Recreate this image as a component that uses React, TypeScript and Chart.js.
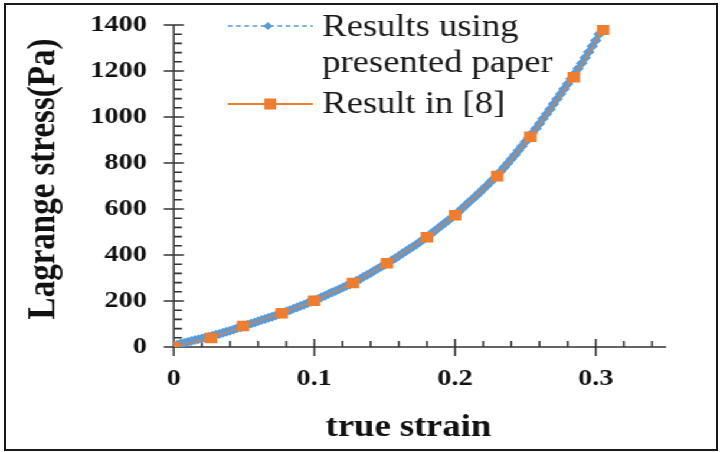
import React, { useEffect, useRef } from "react";
import { Chart, registerables } from "chart.js";

Chart.register(...registerables);

// ---- data ----
const xTickValues = [0, 0.1, 0.2, 0.3];
const yTickValues = [0, 200, 400, 600, 800, 1000, 1200, 1400];
const xTitle = "true strain";
const yTitle = "Lagrange stress(Pa)";
const legendBlue = ["Results using", "presented paper"];
const legendOrange = ["Result in [8]"];

const strainBlue = [
  0, 0.0025, 0.005, 0.0075, 0.01, 0.0125, 0.015, 0.0175, 0.02, 0.0225,
  0.025, 0.0275, 0.03, 0.0325, 0.035, 0.0375, 0.04, 0.0425, 0.045, 0.0475,
  0.05, 0.0525, 0.055, 0.0575, 0.06, 0.0625, 0.065, 0.0675, 0.07, 0.0725,
  0.075, 0.0775, 0.08, 0.0825, 0.085, 0.0875, 0.09, 0.0925, 0.095, 0.0975,
  0.1, 0.1025, 0.105, 0.1075, 0.11, 0.1125, 0.115, 0.1175, 0.12, 0.1225,
  0.125, 0.1275, 0.13, 0.1325, 0.135, 0.1375, 0.14, 0.1425, 0.145, 0.1475,
  0.15, 0.1525, 0.155, 0.1575, 0.16, 0.1625, 0.165, 0.1675, 0.17, 0.1725,
  0.175, 0.1775, 0.18, 0.1825, 0.185, 0.1875, 0.19, 0.1925, 0.195, 0.1975,
  0.2, 0.2025, 0.205, 0.2075, 0.21, 0.2125, 0.215, 0.2175, 0.22, 0.2225,
  0.225, 0.2275, 0.23, 0.2325, 0.235, 0.2375, 0.24, 0.2425, 0.245, 0.2475,
  0.25, 0.2525, 0.255, 0.2575, 0.26, 0.2625, 0.265, 0.2675, 0.27, 0.2725,
  0.275, 0.2775, 0.28, 0.2825, 0.285, 0.2875, 0.29, 0.2925, 0.295, 0.2975,
  0.3, 0.3025, 0.305,
];
const stressBlue = [
  5, 10, 15, 19, 22, 26, 30, 34, 37, 41,
  45, 49, 53, 57, 62, 66, 71, 76, 81, 86,
  92, 97, 102, 107, 112, 117, 122, 127, 132, 137,
  143, 148, 154, 160, 166, 172, 178, 184, 190, 197,
  203, 209, 216, 223, 230, 237, 244, 251, 258, 265,
  272, 280, 288, 296, 305, 313, 322, 331, 340, 349,
  358, 367, 377, 386, 396, 406, 416, 426, 436, 446,
  457, 468, 479, 490, 502, 514, 526, 538, 550, 562,
  575, 588, 602, 616, 630, 644, 658, 672, 687, 701,
  716, 731, 747, 764, 781, 799, 817, 835, 854, 873,
  892, 911, 930, 950, 971, 992, 1013, 1034, 1056, 1078,
  1100, 1122, 1144, 1166, 1188, 1211, 1234, 1258, 1283, 1308,
  1333, 1360, 1393,
];

const strainOrange = [0, 0.0265, 0.0493, 0.0768, 0.0998, 0.1274, 0.1516, 0.18, 0.2, 0.23, 0.2536, 0.2844, 0.3053];
const stressOrange = [0, 39, 91, 147, 201, 278, 364, 477, 573, 743, 914, 1173, 1380];

// ---- styling ----
const BLUE = "#5B9BD5";
const ORANGE = "#ED7D31";
const AXIS = "#333333";
const SERIF = '"Liberation Serif", "Times New Roman", serif';
const DESIGN_W = 610;
const DESIGN_H = 452;
const STRETCH = 720 / DESIGN_W;

const decorPlugin = {
  id: "decor",
  beforeDatasetsDraw(chart: any) {
    const ctx = chart.ctx;
    const xs = chart.scales.x;
    const ys = chart.scales.y;
    const ax = xs.getPixelForValue(0);
    const ay = ys.getPixelForValue(0);
    ctx.save();
    ctx.strokeStyle = AXIS;
    ctx.lineWidth = 1.6;
    ctx.beginPath();
    ctx.moveTo(ax, ys.getPixelForValue(1400));
    ctx.lineTo(ax, ay);
    ctx.lineTo(xs.getPixelForValue(0.35), ay);
    for (let v = 0; v <= 1400; v += 40) {
      const py = ys.getPixelForValue(v);
      if (v % 200 === 0) {
        ctx.moveTo(ax - 8.5, py);
        ctx.lineTo(ax + 8.5, py);
      } else {
        ctx.moveTo(ax, py);
        ctx.lineTo(ax + 7, py);
      }
    }
    for (let i = 0; i <= 17; i++) {
      const px = xs.getPixelForValue(i * 0.02);
      if (i % 5 === 0) {
        ctx.moveTo(px, ay - 8);
        ctx.lineTo(px, ay + 9);
      } else {
        ctx.moveTo(px, ay - 6);
        ctx.lineTo(px, ay);
      }
    }
    ctx.stroke();
    ctx.restore();
  },
  afterDraw(chart: any) {
    const ctx = chart.ctx;
    ctx.save();
    ctx.fillStyle = "#111";
    // y title
    ctx.save();
    ctx.translate(46, 179);
    ctx.rotate(-Math.PI / 2);
    ctx.font = `bold 33px ${SERIF}`;
    ctx.textAlign = "center";
    ctx.textBaseline = "alphabetic";
    ctx.fillText(yTitle, 0, 0);
    ctx.restore();
    // x title
    ctx.font = `bold 31px ${SERIF}`;
    ctx.textAlign = "center";
    ctx.textBaseline = "middle";
    ctx.fillText(xTitle, 346, 428);

    // legend
    ctx.font = `31px ${SERIF}`;
    ctx.textAlign = "left";
    ctx.textBaseline = "alphabetic";
    ctx.fillStyle = "#1a1a1a";
    ctx.fillText(legendBlue[0], 273, 36);
    ctx.fillText(legendBlue[1], 273, 72);
    ctx.fillText(legendOrange[0], 273, 113);

    ctx.strokeStyle = BLUE;
    ctx.lineWidth = 1.5;
    ctx.setLineDash([4, 3]);
    ctx.beginPath();
    ctx.moveTo(193, 26);
    ctx.lineTo(265, 26);
    ctx.stroke();
    ctx.setLineDash([]);
    ctx.fillStyle = BLUE;
    ctx.beginPath();
    ctx.moveTo(227, 22);
    ctx.lineTo(231, 26);
    ctx.lineTo(227, 30);
    ctx.lineTo(223, 26);
    ctx.closePath();
    ctx.fill();

    ctx.strokeStyle = ORANGE;
    ctx.lineWidth = 2;
    ctx.beginPath();
    ctx.moveTo(193, 104);
    ctx.lineTo(265, 104);
    ctx.stroke();
    ctx.fillStyle = ORANGE;
    ctx.fillRect(229 - 5, 104 - 5.5, 10, 11);
    ctx.restore();
  },
};

export default function App() {
  const canvasRef = useRef<HTMLCanvasElement | null>(null);

  useEffect(() => {
    if (!canvasRef.current) return;
    const chart = new Chart(canvasRef.current, {
      type: "line",
      data: {
        datasets: [
          {
            label: legendOrange[0],
            data: strainOrange.map((x, i) => ({ x, y: stressOrange[i] })),
            borderColor: "rgba(237,125,49,0.75)",
            backgroundColor: ORANGE,
            borderWidth: 1.4,
            pointStyle: "rect",
            pointRadius: 7.5,
            pointBorderWidth: 0,
            pointBackgroundColor: ORANGE,
            order: 0,
            tension: 0,
          },
          {
            label: legendBlue.join(" "),
            data: strainBlue.map((x, i) => ({ x, y: stressBlue[i] })),
            borderColor: BLUE,
            backgroundColor: BLUE,
            borderWidth: 1.5,
            borderDash: [4, 3],
            pointStyle: "rectRot",
            pointRadius: 5,
            pointBorderWidth: 0,
            pointBackgroundColor: BLUE,
            order: 1,
            tension: 0,
          },
        ],
      },
      options: {
        animation: false,
        responsive: true,
        maintainAspectRatio: false,
        layout: { padding: { left: 0, right: 45.7, top: 25, bottom: 0 } },
        plugins: {
          legend: { display: false },
          tooltip: { enabled: false },
          title: { display: false },
        },
        scales: {
          x: {
            type: "linear",
            min: 0,
            max: 0.35,
            grid: { display: false, drawTicks: false },
            border: { display: false },
            afterFit: (scale: any) => {
              scale.height = 105;
              scale.paddingLeft = 0;
              scale.paddingRight = 0;
            },
            afterBuildTicks: (scale: any) => {
              scale.ticks = xTickValues.map((v) => ({ value: v }));
            },
            ticks: {
              includeBounds: false,
              color: "#111",
              padding: 17,
              maxRotation: 0,
              font: { family: SERIF, size: 24, weight: "bold" },
              callback: (v: any) => String(Math.round(Number(v) * 10) / 10),
            },
          },
          y: {
            type: "linear",
            min: 0,
            max: 1400,
            grid: { display: false, drawTicks: false },
            border: { display: false },
            afterFit: (scale: any) => {
              scale.width = 147.2;
              scale.paddingTop = 0;
              scale.paddingBottom = 0;
            },
            afterBuildTicks: (scale: any) => {
              scale.ticks = yTickValues.map((v) => ({ value: v }));
            },
            ticks: {
              color: "#111",
              padding: 22.7,
              font: { family: SERIF, size: 24, weight: "bold" },
              callback: (v: any) => String(v),
            },
          },
        },
      },
      plugins: [decorPlugin],
    } as any);
    return () => chart.destroy();
  }, []);

  return (
    <>
      <div
        style={{
          position: "fixed",
          left: 0,
          top: 0,
          width: DESIGN_W,
          height: DESIGN_H,
          transform: `scaleX(${STRETCH})`,
          transformOrigin: "0 0",
          background: "#fff",
        }}
      >
        <canvas ref={canvasRef} />
      </div>
      <div
        style={{
          position: "fixed",
          left: 4,
          top: 3,
          width: 714,
          height: 448,
          border: "2px solid #1a1a1a",
          boxSizing: "border-box",
          pointerEvents: "none",
        }}
      />
    </>
  );
}
